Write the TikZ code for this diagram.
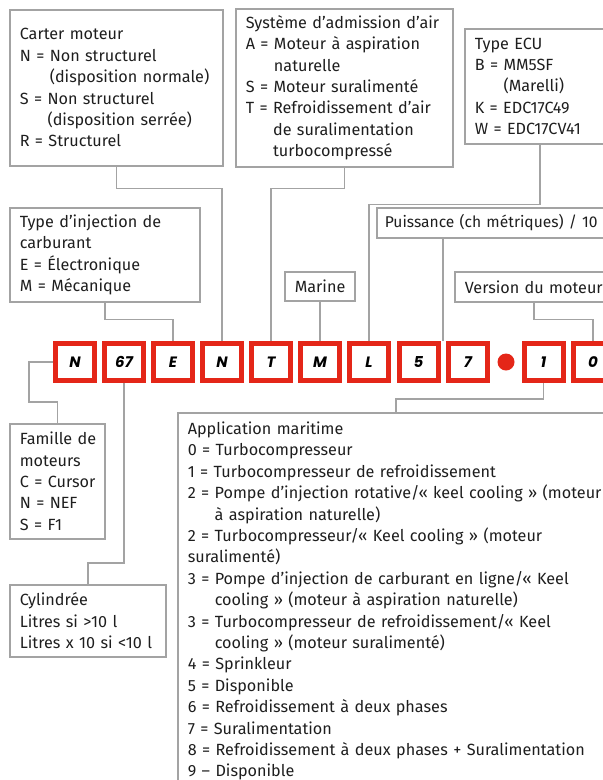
\documentclass[tikz,border=0pt]{standalone}
\usepackage{fontspec}
\setmainfont{Fira Sans}
\newfontfamily\codefont{Poppins}
\usetikzlibrary{calc}
\definecolor{linegray}{HTML}{A3A3A3}
\definecolor{codered}{HTML}{E42618}
\definecolor{textblack}{HTML}{1E1E1E}
\tikzset{
  legend/.style={draw=linegray, line width=1.6pt, anchor=north west, align=left,
    inner xsep=10pt, inner ysep=0pt, text=textblack,
    font=\fontsize{16.2}{21.4}\selectfont},
  link/.style={draw=linegray, line width=1.6pt},
  codebox/.style={draw=codered, line width=5pt, fill=white, minimum width=39pt,
    minimum height=37pt, inner sep=0pt,
    font=\codefont\bfseries\itshape\fontsize{15}{15}\selectfont},
}

\begin{document}
\begin{tikzpicture}[x=1pt,y=-1pt]
    \useasboundingbox (0,0) rectangle (603,780);
    \clip (0,0) rectangle (603,780);
    % code letters
    \node[codebox] (cN1) at (75,362) {N};
    \node[codebox] (c67) at (124,362) {67};
    \node[codebox] (cE) at (173,362) {E};
    \node[codebox] (cN2) at (222,362) {N};
    \node[codebox] (cT) at (271,362) {T};
    \node[codebox] (cM) at (320,362) {M};
    \node[codebox] (cL) at (369,362) {L};
    \node[codebox] (c5) at (418.5,362) {5};
    \node[codebox] (c7) at (468,362) {7};
    \node[circle,fill=codered,minimum size=17pt,inner sep=0pt] (dot) at (506,362) {};
    \node[codebox] (c1) at (543.5,362) {1};
    \node[codebox] (c0) at (593,362) {0};
    % legend boxes
    \node[legend,text width=193pt,minimum height=156pt] (carter) at (9,9)
      {Carter moteur\\N = Non structurel\\\phantom{N = }(disposition normale)\\S = Non structurel\\\phantom{S = }(disposition serrée)\\R = Structurel};
    \node[legend,text width=197pt,minimum height=158pt] (admission) at (235,8)
      {Système d’admission d’air\\A = Moteur à aspiration\\\phantom{A = }naturelle\\S = Moteur suralimenté\\T = Refroidissement d’air\\\phantom{T = }de suralimentation\\\phantom{T = }turbocompressé};
    \node[legend,text width=130pt,minimum height=115pt] (ecu) at (464,28)
      {Type ECU\\B = MM5SF\\\phantom{B = }(Marelli)\\K = EDC17C49\\W = EDC17CV41};
    \node[legend,text width=170pt,minimum height=94pt] (injection) at (9,207)
      {Type d’injection de\\carburant\\E = Électronique\\M = Mécanique};
    \node[legend,text width=50pt,minimum height=29pt,align=center] (marine) at (284,271) {Marine};
    \node[legend,text width=240pt,minimum height=30pt,inner xsep=8pt,
      font=\fontsize{15.6}{21.4}\selectfont] (puissance) at (376,207)
      {Puissance (ch métriques) / 10};
    \node[legend,text width=138pt,minimum height=30pt] (version) at (454,271) {Version du moteur};
    \node[legend,text width=75pt,minimum height=115pt] (famille) at (9,423)
      {\mbox{Famille de}\\moteurs\\\mbox{C = Cursor}\\\mbox{N = NEF}\\\mbox{S = F1}};
    \node[legend,text width=136pt,minimum height=72pt] (cylindree) at (9,584)
      {Cylindrée\\Litres si >10 l\\Litres x 10 si <10 l};
    \node[legend,text width=460pt,inner ysep=9pt] (application) at (177,412)
      {Application maritime\\0 = Turbocompresseur\\1 = Turbocompresseur de refroidissement\\2 = Pompe d’injection rotative/«~keel cooling~» (moteur\\\phantom{2 = }à aspiration naturelle)\\2 = Turbocompresseur/«~Keel cooling~» (moteur\\suralimenté)\\3 = Pompe d’injection de carburant en ligne/«~Keel\\\phantom{3 = }cooling~» (moteur à aspiration naturelle)\\3 = Turbocompresseur de refroidissement/«~Keel\\\phantom{3 = }cooling~» (moteur suralimenté)\\4 = Sprinkleur\\5 = Disponible\\6 = Refroidissement à deux phases\\7 = Suralimentation\\8 = Refroidissement à deux phases + Suralimentation\\9 – Disponible};
    % connectors
    \coordinate (p57) at ($(c5.north east)!0.5!(c7.north west)$);
    \coordinate (appin) at ($(application.north west)+(219,0)$);
    \draw[link] (carter.south) -- ++(0,22) -| (cN2.north);
    \draw[link] (admission.south) -- ++(0,21) -| (cT.north);
    \draw[link] (ecu.south) -- ++(0,60) -| (cL.north);
    \draw[link] (injection.south) -- ++(0,17) -| (cE.north);
    \draw[link] (marine.south) -- (marine.south |- cM.north);
    \draw[link] (puissance.south -| p57) -- (p57);
    \draw[link] (version.south) -- ++(0,17) -| (c0.north);
    \draw[link] (cN1.west) -- ++(-24,0) |- ($(famille.north)+(0,-21)$) -- (famille.north);
    \draw[link] (c67.south) |- ($(cylindree.north)+(0,-21)$) -- (cylindree.north);
    \draw[link] (c1.south) -- ++(0,16) -| (appin);
\end{tikzpicture}
\end{document}
